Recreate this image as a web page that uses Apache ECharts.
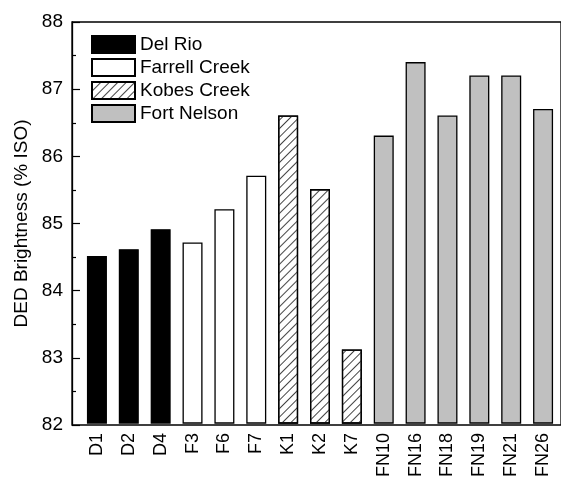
<!DOCTYPE html>
<html>
<head>
<meta charset="utf-8">
<script src="https://cdn.jsdelivr.net/npm/echarts@6/dist/echarts.min.js"></script>
<style>
  html, body { margin: 0; padding: 0; background: #fff; }
  #chart { width: 561px; height: 480px; }
</style>
</head>
<body>
<div id="chart"></div>
<script>
// muestras (eje x)
const categories = ['D1', 'D2', 'D4', 'F3', 'F6', 'F7', 'K1', 'K2', 'K7',
  'FN10', 'FN16', 'FN18', 'FN19', 'FN21', 'FN26'];

// brillo DED (% ISO) por sitio; '-' = muestra de otro sitio
const delRio = [84.5, 84.6, 84.9, '-', '-', '-', '-', '-', '-', '-', '-', '-', '-', '-', '-'];
const farrellCreek = ['-', '-', '-', 84.7, 85.2, 85.7, '-', '-', '-', '-', '-', '-', '-', '-', '-'];
const kobesCreek = ['-', '-', '-', '-', '-', '-', 86.6, 85.5, 83.1, '-', '-', '-', '-', '-', '-'];
const fortNelson = ['-', '-', '-', '-', '-', '-', '-', '-', '-', 86.3, 87.4, 86.6, 87.2, 87.2, 86.7];

const yTicks = { min: 82, max: 88, interval: 1 };

const FONT = '"Liberation Sans", Arial, sans-serif';
const borde = { borderColor: '#000', borderWidth: 1.3 };

const chart = echarts.init(document.getElementById('chart'), null, { renderer: 'canvas' });

const mkSerie = (name, data, itemStyle) => ({
  name,
  type: 'bar',
  xAxisIndex: 1,
  yAxisIndex: 1,
  data,
  barWidth: 20,
  barGap: '-100%',
  itemStyle: { ...borde, ...itemStyle },
  emphasis: { disabled: true },
});

chart.setOption({
  animation: false,
  backgroundColor: '#fff',
  textStyle: { fontFamily: FONT },
  // grid 0: marco + eje y visible; grid 1: barras
  grid: [
    { left: 72, right: -4, top: 22, bottom: 55, show: true, borderColor: '#000', borderWidth: 1.3, backgroundColor: 'transparent' },
    { left: 81, right: 2, top: 22, bottom: 55 },
  ],
  legend: {
    orient: 'vertical',
    left: 91,
    top: 35,
    padding: 0,
    itemWidth: 43,
    itemHeight: 17,
    itemGap: 4,
    icon: 'rect',
    textStyle: { fontFamily: FONT, fontSize: 19, color: '#000' },
    data: ['Del Rio', 'Farrell Creek', 'Kobes Creek', 'Fort Nelson'],
  },
  xAxis: [
    { gridIndex: 0, type: 'value', min: 0, max: 1, show: false },
    {
      gridIndex: 1,
      type: 'category',
      data: categories,
      axisLine: { show: false },
      axisTick: { show: false },
      axisLabel: { rotate: 90, margin: 10, fontFamily: FONT, fontSize: 18, color: '#000' },
    },
  ],
  yAxis: [
    {
      gridIndex: 0,
      type: 'value',
      min: yTicks.min,
      max: yTicks.max,
      interval: yTicks.interval,
      name: 'DED Brightness (% ISO)',
      nameLocation: 'middle',
      nameGap: 40,
      nameTextStyle: { fontFamily: FONT, fontSize: 19, color: '#000' },
      axisLine: { show: true, lineStyle: { color: '#000', width: 1.3 } },
      axisTick: { show: true, inside: true, length: 8, lineStyle: { color: '#000', width: 1.2 } },
      minorTick: { show: true, splitNumber: 2, length: 4, lineStyle: { color: '#000', width: 1.2 } },
      axisLabel: { margin: 9, fontFamily: FONT, fontSize: 19, color: '#000' },
      splitLine: { show: false },
    },
    { gridIndex: 1, type: 'value', min: yTicks.min, max: yTicks.max, show: false },
  ],
  series: [
    mkSerie('Del Rio', delRio, { color: '#000' }),
    mkSerie('Farrell Creek', farrellCreek, { color: '#fff' }),
    mkSerie('Kobes Creek', kobesCreek, {
      color: '#fff',
      decal: {
        symbol: 'rect',
        symbolSize: 1,
        color: '#444',
        dashArrayX: [1, 0],
        dashArrayY: [1, 5],
        rotation: -Math.PI / 4,
      },
    }),
    mkSerie('Fort Nelson', fortNelson, { color: '#c0c0c0' }),
  ],
});
</script>
</body>
</html>
